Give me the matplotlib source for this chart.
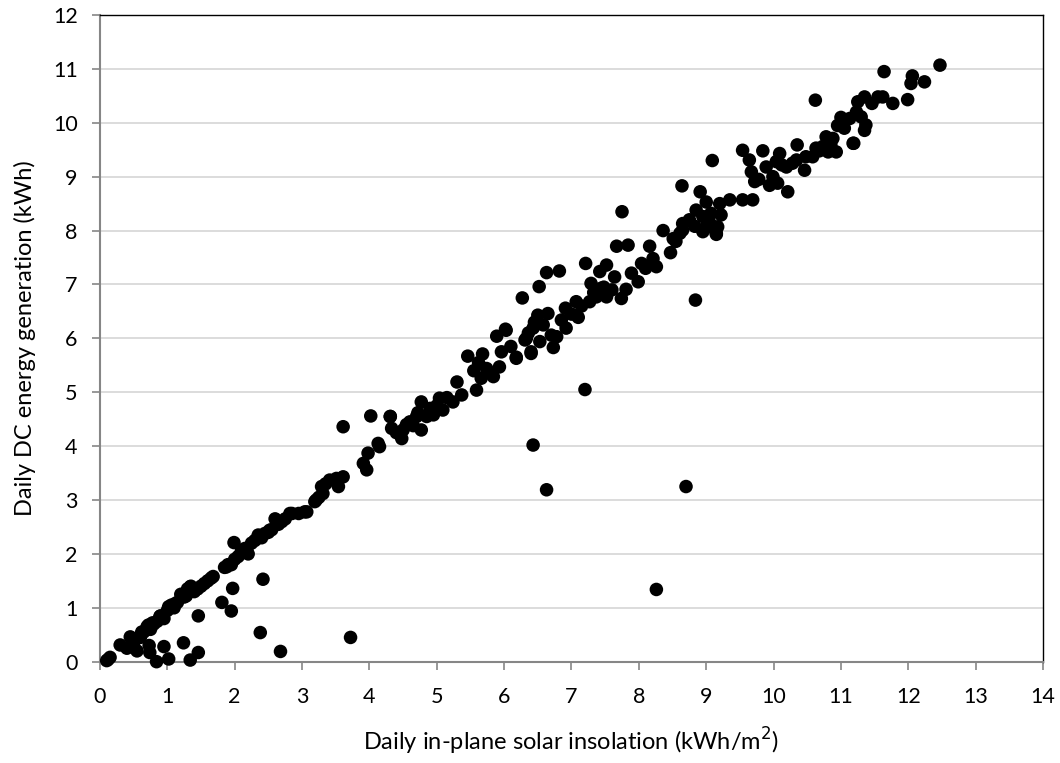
import matplotlib.pyplot as plt

# ======================================
# DATOS
# ======================================

# tramo bajo, diagonal principal 0-3.6
x_low = [0.10, 0.15, 0.12, 0.30, 0.40, 0.45, 0.50, 0.55, 0.60, 0.65, 0.70, 0.72, 0.75,
         0.80, 0.85, 0.89, 0.90, 0.95, 1.00, 1.02, 1.06, 1.10, 1.15, 1.20, 1.25, 1.30,
         1.34, 1.35, 1.40, 1.45, 1.50, 1.55, 1.60, 1.65, 1.68, 1.85, 1.88, 1.90, 1.95,
         2.00, 2.05, 2.10, 2.15, 2.18, 2.20, 2.30, 2.35, 2.40, 2.50, 2.52, 2.55, 2.60,
         2.65, 2.70, 2.75, 2.82, 2.85, 2.95, 3.04, 3.07, 3.19, 3.21, 3.29, 3.31, 3.41,
         3.51, 3.54, 3.61, 0.62, 0.78, 1.12, 1.28, 2.25, 2.45, 3.25, 3.35]
y_low = [0.02, 0.08, 0.04, 0.31, 0.25, 0.46, 0.35, 0.20, 0.45, 0.55, 0.65, 0.68, 0.60,
         0.70, 0.75, 0.84, 0.85, 0.80, 0.95, 1.02, 1.05, 1.00, 1.10, 1.25, 1.20, 1.35,
         1.39, 1.40, 1.30, 1.35, 1.40, 1.45, 1.50, 1.55, 1.58, 1.75, 1.76, 1.80, 1.80,
         1.90, 1.95, 2.05, 2.10, 2.10, 2.00, 2.25, 2.35, 2.30, 2.40, 2.44, 2.45, 2.65,
         2.55, 2.60, 2.65, 2.75, 2.75, 2.75, 2.78, 2.78, 2.97, 3.00, 3.25, 3.12, 3.37,
         3.40, 3.25, 3.43, 0.55, 0.72, 1.08, 1.22, 2.20, 2.38, 3.05, 3.30]

# diagonal principal 3.9-6.6
x_mid = [3.91, 3.96, 3.98, 4.13, 4.15, 4.31, 4.33, 4.48, 4.50, 4.60, 4.70, 4.77, 4.77,
         4.85, 4.95, 5.04, 5.09, 5.24, 5.30, 5.37, 5.46, 5.59, 5.66, 5.68, 5.74, 5.84,
         5.89, 5.93, 5.96, 6.02, 6.03, 6.18, 6.18, 6.27, 6.31, 6.33, 6.40, 6.40, 6.43,
         6.50, 6.52, 6.53, 6.63, 6.65, 4.40, 4.55, 4.65, 4.72, 4.90, 5.00, 5.15, 5.55,
         5.62, 5.80, 6.10, 6.36, 6.45, 6.58]
y_mid = [3.68, 3.56, 3.87, 4.05, 3.99, 4.55, 4.33, 4.14, 4.30, 4.45, 4.55, 4.82, 4.30,
         4.55, 4.58, 4.89, 4.67, 4.82, 5.19, 4.95, 5.67, 5.04, 5.26, 5.71, 5.44, 5.29,
         6.04, 5.47, 5.75, 6.17, 6.15, 5.63, 5.65, 6.75, 5.97, 6.00, 5.72, 5.75, 6.19,
         6.43, 6.96, 5.94, 7.22, 6.46, 4.25, 4.40, 4.38, 4.62, 4.70, 4.75, 4.90, 5.40,
         5.55, 5.35, 5.85, 6.10, 6.30, 6.25]

# diagonal principal 6.7-9.4
x_up = [6.70, 6.73, 6.78, 6.82, 6.85, 6.91, 6.92, 7.07, 7.10, 7.21, 7.27, 7.29, 7.37,
        7.42, 7.44, 7.52, 7.52, 7.64, 7.67, 7.74, 7.75, 7.81, 7.84, 7.89, 7.99, 8.04,
        8.16, 8.21, 8.26, 8.36, 8.47, 8.51, 8.61, 8.64, 8.65, 8.65, 8.83, 8.85, 8.91,
        8.95, 8.95, 8.98, 9.00, 9.07, 9.09, 9.15, 9.15, 9.17, 9.20, 9.22, 9.35, 7.00,
        7.15, 7.33, 7.48, 7.60, 8.10, 8.55, 8.75, 9.05]
y_up = [6.06, 5.83, 6.03, 7.25, 6.34, 6.56, 6.19, 6.68, 6.39, 7.39, 6.68, 7.02, 6.77,
        7.24, 6.93, 7.36, 6.77, 7.14, 7.71, 6.74, 8.35, 6.91, 7.73, 7.21, 7.05, 7.39,
        7.71, 7.48, 7.33, 8.00, 7.59, 7.85, 7.95, 8.83, 8.13, 8.01, 8.08, 8.38, 8.72,
        8.26, 7.98, 8.04, 8.53, 8.32, 9.30, 7.95, 7.93, 8.07, 8.50, 8.29, 8.57, 6.45,
        6.60, 6.85, 6.95, 6.90, 7.30, 7.80, 8.20, 8.15]

# diagonal principal 9.5-12.5
x_top = [9.54, 9.54, 9.64, 9.67, 9.69, 9.72, 9.84, 9.89, 9.94, 9.99, 10.04, 10.06, 10.09,
         10.19, 10.21, 10.34, 10.35, 10.46, 10.48, 10.58, 10.62, 10.63, 10.73, 10.78,
         10.81, 10.88, 10.93, 10.95, 11.00, 11.13, 11.18, 11.19, 11.23, 11.25, 11.30,
         11.35, 11.35, 11.37, 11.46, 11.55, 11.62, 11.64, 11.77, 11.99, 12.04, 12.06,
         12.24, 12.47, 9.78, 10.12, 10.28, 10.68, 10.85, 11.05]
y_top = [8.57, 9.49, 9.31, 9.09, 8.57, 8.91, 9.48, 9.18, 8.84, 9.00, 9.28, 8.88, 9.43,
         9.18, 8.72, 9.31, 9.59, 9.12, 9.37, 9.37, 10.42, 9.53, 9.56, 9.74, 9.46, 9.71,
         9.46, 9.95, 10.10, 10.08, 9.62, 9.62, 10.20, 10.39, 10.11, 10.48, 9.86, 9.96,
         10.36, 10.48, 10.48, 10.95, 10.36, 10.43, 10.73, 10.87, 10.76, 11.07, 8.95,
         9.22, 9.25, 9.48, 9.60, 9.90]

# puntos alejados de la recta (dias con sombra / fallas)
x_out = [0.73, 0.74, 0.84, 0.95, 1.02, 1.24, 1.34, 1.46, 1.46, 1.81, 1.95, 1.97, 1.99,
         2.38, 2.42, 2.68, 3.61, 3.72, 4.02, 4.31, 6.43, 6.63, 7.20, 8.26, 8.70, 8.84]
y_out = [0.30, 0.17, 0.00, 0.28, 0.05, 0.35, 0.03, 0.17, 0.85, 1.10, 0.94, 1.36, 2.21,
         0.54, 1.53, 0.19, 4.36, 0.45, 4.56, 4.55, 4.02, 3.19, 5.05, 1.34, 3.25, 6.71]

x_all = x_low + x_mid + x_up + x_top + x_out
y_all = y_low + y_mid + y_up + y_top + y_out

# ======================================
# FIGURA
# ======================================

plt.rcParams["font.family"] = ["Lato", "DejaVu Sans"]

fig = plt.figure(figsize=(10.6, 7.63), dpi=100)
ax = fig.add_axes([0.0943, 0.1328, 0.8897, 0.8475])

ax.scatter(x_all, y_all, s=95, color="black", edgecolors="none", zorder=3, clip_on=False)

ax.set_xlim(0, 14)
ax.set_ylim(0, 12)
ax.set_xticks(range(0, 15))
ax.set_yticks(range(0, 13))

ax.yaxis.grid(True, color="#d9d9d9", linewidth=1.3)
ax.set_axisbelow(True)

for side in ["left", "bottom"]:
    ax.spines[side].set_color("#868686")
    ax.spines[side].set_linewidth(1.5)
for side in ["top", "right"]:
    ax.spines[side].set_color("black")
    ax.spines[side].set_linewidth(1.0)

ax.tick_params(axis="both", direction="out", length=6, width=1.2,
               color="#868686", labelsize=15.5, labelcolor="black")
ax.tick_params(axis="x", pad=12)
ax.tick_params(axis="y", pad=10)

ax.set_xlabel("Daily in-plane solar insolation (kWh/m$^2$)", fontsize=17, labelpad=14)
ax.set_ylabel("Daily DC energy generation (kWh)", fontsize=17, labelpad=12)

fig.savefig("out.png", dpi=100)
plt.close()
